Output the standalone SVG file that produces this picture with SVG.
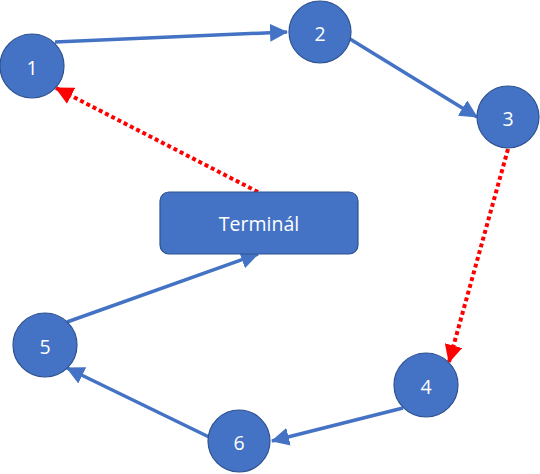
<svg xmlns="http://www.w3.org/2000/svg" width="540" height="474" viewBox="0 0 540 474">
<defs>
<style>
.node circle{fill:#4472C4;stroke:#2F528F;stroke-width:1.2}
.node rect{fill:#4472C4;stroke:#2F528F;stroke-width:1.2}
.node text{fill:#fff;font-family:"Open Sans","Noto Sans",sans-serif;font-size:19.5px;text-anchor:middle;dominant-baseline:central}
.blue{stroke:#4472C4;stroke-width:3.5;fill:none;marker-end:url(#ab)}
.red{stroke:#FF0000;stroke-width:4;stroke-dasharray:4 3;fill:none;marker-end:url(#ar)}
</style>
<marker id="ab" markerUnits="userSpaceOnUse" markerWidth="18" markerHeight="18" viewBox="0 0 18 18" refX="17" refY="9" orient="auto"><path d="M0,0 L18,9 L0,18 Z" fill="#4472C4"/></marker>
<marker id="ar" markerUnits="userSpaceOnUse" markerWidth="18" markerHeight="18" viewBox="0 0 18 18" refX="17" refY="9" orient="auto"><path d="M0,0 L18,9 L0,18 Z" fill="#FF0000"/></marker>
</defs>
<g id="connectors">
<line class="blue" x1="55" y1="42" x2="287" y2="32"/>
<line class="blue" x1="350" y1="39" x2="477" y2="117"/>
<line class="red" x1="508" y1="149" x2="449" y2="362"/>
<line class="blue" x1="403" y1="408" x2="272" y2="441"/>
<line class="blue" x1="209" y1="437" x2="67" y2="368"/>
<line class="blue" x1="67" y1="322" x2="258" y2="254"/>
<line class="red" x1="258" y1="192" x2="56" y2="88"/>
</g>
<g id="node1" class="node"><circle cx="32" cy="66" r="32"/><text x="32" y="67">1</text></g>
<g id="node2" class="node"><circle cx="320" cy="32" r="31"/><text x="320" y="33">2</text></g>
<g id="node3" class="node"><circle cx="508" cy="117" r="31"/><text x="508" y="118">3</text></g>
<g id="node4" class="node"><circle cx="426" cy="385" r="32"/><text x="426" y="386">4</text></g>
<g id="node5" class="node"><circle cx="45" cy="345" r="32"/><text x="45" y="346">5</text></g>
<g id="node6" class="node"><circle cx="239" cy="441" r="31"/><text x="239" y="442">6</text></g>
<g id="terminal" class="node"><rect x="160" y="192" width="198" height="62" rx="9"/><text x="259" y="223">Terminál</text></g>
</svg>
